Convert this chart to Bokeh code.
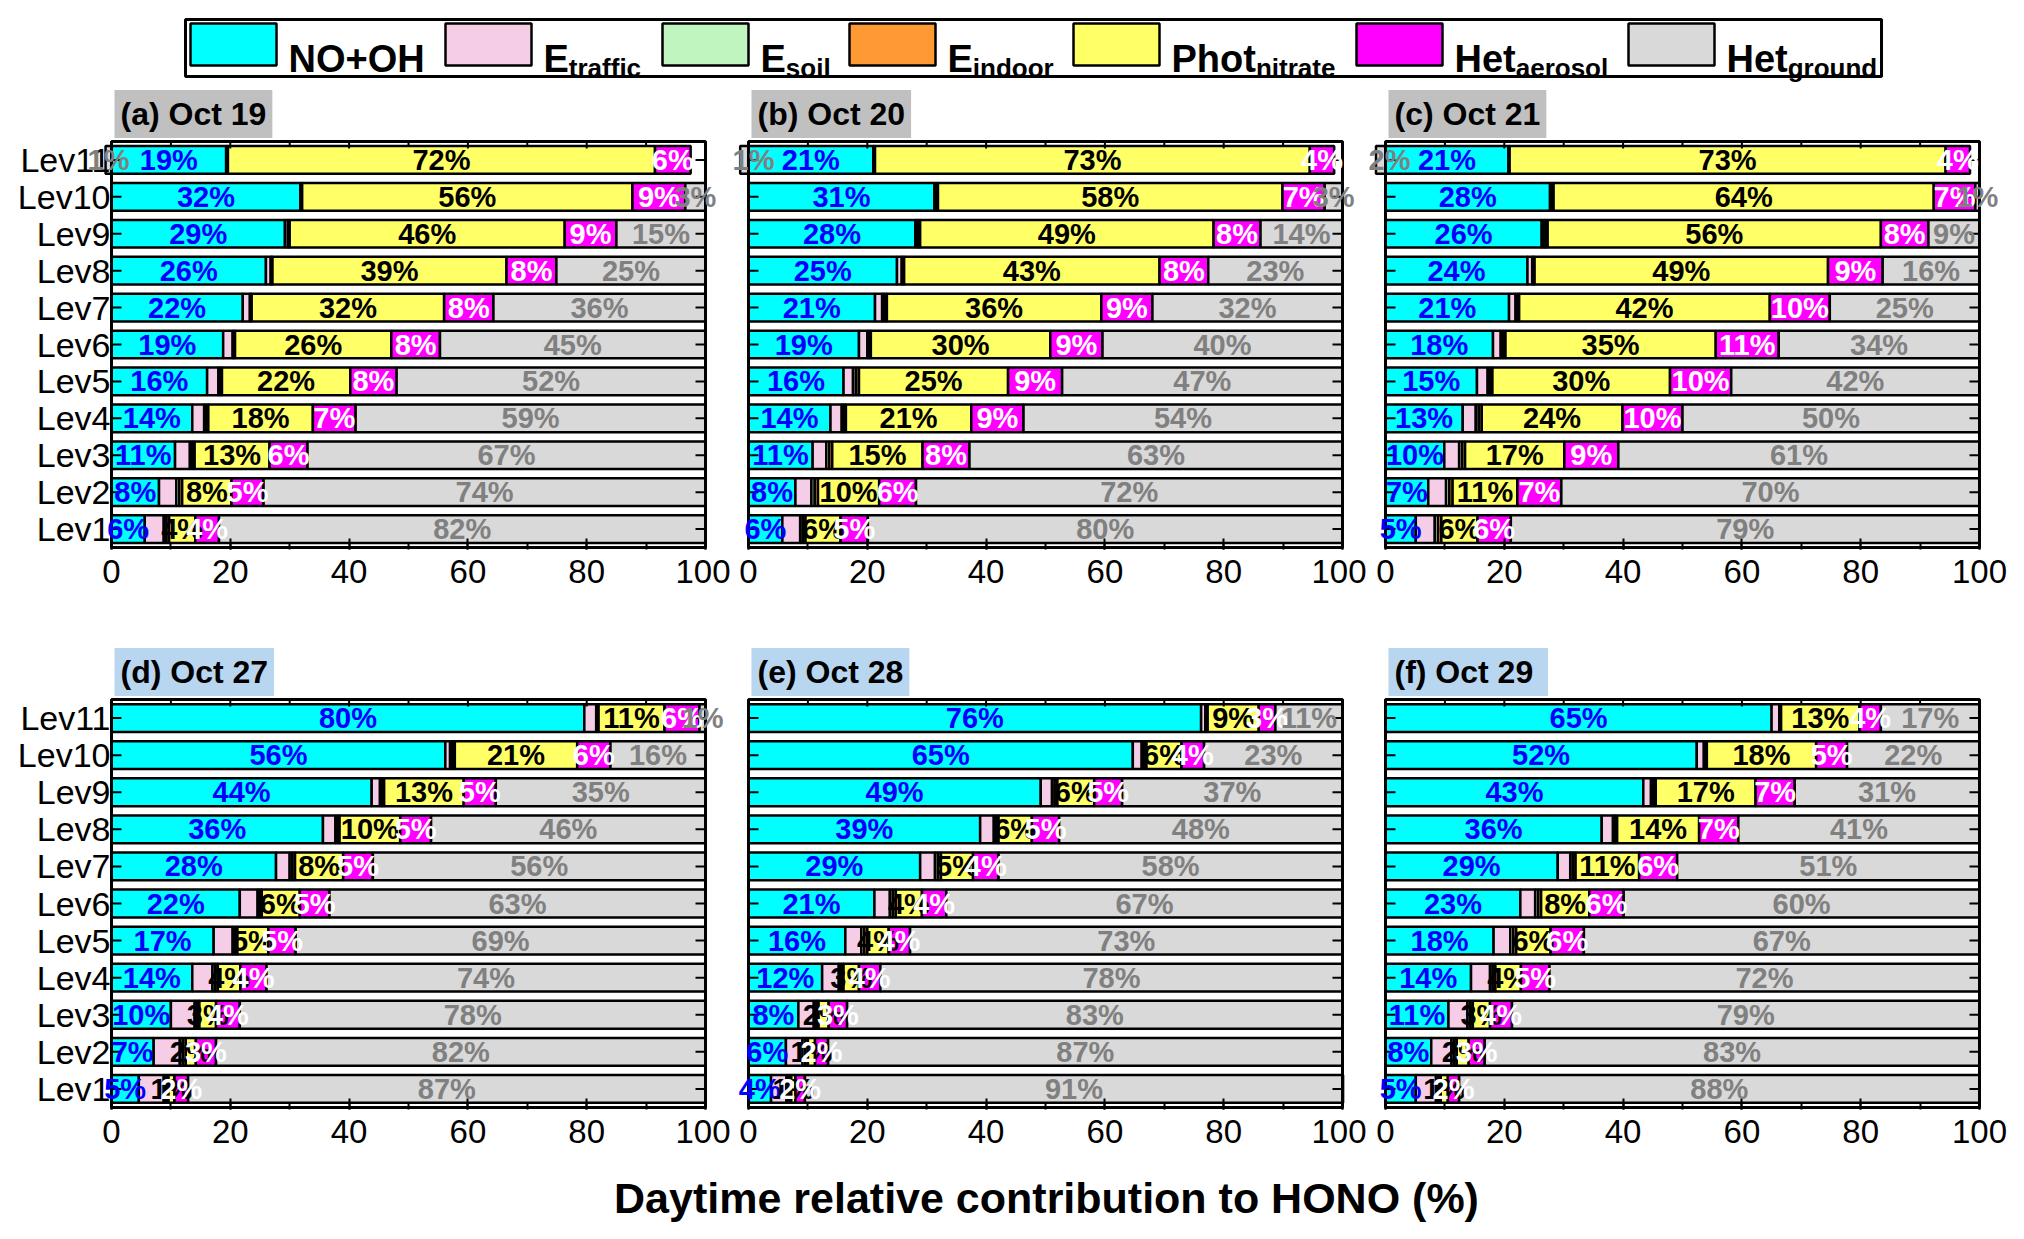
from bokeh.plotting import figure
from bokeh.models import Range1d, FixedTicker, SingleIntervalTicker, ColumnDataSource, LabelSet
from bokeh.layouts import column, row
from bokeh.core.properties import value
from bokeh.embed import file_html
from bokeh.resources import INLINE

FONT = "Liberation Sans"

levels = list(range(1, 12))
level_names = [f"Lev{i}" for i in levels]

# values per level, Lev1 -> Lev11 (percent of daytime HONO)
oct19_no_oh = [5.6, 8.0, 10.7, 13.6, 16.1, 18.8, 22.1, 26.0, 29.2, 31.8, 19.3]
oct19_e_traffic = [3.2, 2.9, 2.5, 2.0, 1.9, 1.6, 1.2, 0.8, 0.5, 0.2, 0.1]
oct19_e_soil = [0.45, 0.5, 0.4, 0.35, 0.3, 0.2, 0.15, 0.15, 0.15, 0.05, 0.1]
oct19_e_indoor = [0.45, 0.5, 0.4, 0.35, 0.3, 0.2, 0.15, 0.15, 0.15, 0.05, 0.1]
oct19_phot = [4.4, 8.3, 12.6, 17.6, 21.6, 26.3, 32.4, 39.4, 46.3, 55.6, 71.9]
oct19_het_aer = [4.0, 5.4, 6.4, 7.2, 7.8, 8.2, 8.3, 8.4, 8.7, 8.9, 6.0]
oct19_het_ground = [81.9, 74.4, 67.0, 58.9, 52.0, 44.7, 35.7, 25.1, 15.0, 3.4, 1.0]

oct20_no_oh = [5.7, 7.9, 10.8, 13.8, 16.0, 18.6, 21.3, 25.0, 28.1, 31.3, 21.0]
oct20_e_traffic = [3.0, 2.7, 2.3, 1.9, 1.6, 1.4, 1.2, 0.8, 0.4, 0.2, 0.1]
oct20_e_soil = [0.45, 0.55, 0.5, 0.35, 0.5, 0.3, 0.4, 0.2, 0.2, 0.2, 0.1]
oct20_e_indoor = [0.45, 0.55, 0.5, 0.35, 0.5, 0.3, 0.4, 0.2, 0.2, 0.2, 0.1]
oct20_phot = [5.9, 10.3, 15.2, 21.1, 25.1, 30.2, 36.1, 43.0, 49.4, 58.0, 73.2]
oct20_het_aer = [4.6, 6.2, 7.9, 8.8, 9.1, 8.8, 8.6, 8.2, 7.9, 7.1, 4.1]
oct20_het_ground = [79.9, 71.8, 62.8, 53.7, 47.2, 40.4, 32.0, 22.6, 13.8, 3.0, 1.4]

oct21_no_oh = [5.1, 7.2, 9.9, 13.0, 15.4, 18.1, 20.8, 23.9, 26.3, 27.7, 20.7]
oct21_e_traffic = [3.2, 3.0, 2.5, 2.2, 1.8, 1.3, 1.1, 0.8, 0.4, 0.2, 0.1]
oct21_e_soil = [0.55, 0.55, 0.5, 0.5, 0.4, 0.4, 0.3, 0.2, 0.3, 0.2, 0.05]
oct21_e_indoor = [0.55, 0.55, 0.5, 0.5, 0.4, 0.4, 0.3, 0.2, 0.3, 0.2, 0.05]
oct21_phot = [6.1, 10.9, 16.7, 23.7, 29.9, 35.4, 42.2, 49.4, 56.1, 64.0, 73.4]
oct21_het_aer = [5.6, 7.4, 9.1, 10.1, 10.3, 10.6, 10.1, 9.2, 8.0, 7.0, 4.1]
oct21_het_ground = [78.9, 70.4, 60.8, 50.0, 41.8, 33.8, 25.2, 16.3, 8.6, 0.7, 1.6]

oct27_no_oh = [4.6, 7.1, 10.0, 13.6, 17.2, 21.6, 27.7, 35.6, 43.8, 56.2, 79.6]
oct27_e_traffic = [4.2, 4.4, 4.0, 3.4, 3.2, 3.0, 2.3, 2.1, 1.4, 0.8, 2.0]
oct27_e_soil = [0.4, 0.5, 0.4, 0.45, 0.4, 0.35, 0.45, 0.35, 0.35, 0.4, 0.2]
oct27_e_indoor = [0.4, 0.5, 0.4, 0.45, 0.4, 0.35, 0.45, 0.35, 0.35, 0.4, 0.2]
oct27_phot = [1.0, 1.7, 2.8, 3.8, 5.2, 6.4, 8.1, 10.2, 13.4, 20.6, 11.1]
oct27_het_aer = [2.3, 3.4, 4.0, 4.4, 4.6, 5.0, 5.0, 5.2, 5.4, 5.6, 5.9]
oct27_het_ground = [87.1, 82.4, 78.4, 73.9, 69.0, 63.3, 56.0, 46.2, 35.3, 16.0, 1.0]

oct28_no_oh = [3.8, 6.3, 8.4, 12.4, 16.3, 21.2, 28.9, 39.0, 49.2, 64.7, 76.2]
oct28_e_traffic = [2.6, 2.8, 2.6, 2.8, 2.7, 2.6, 2.5, 2.3, 1.9, 1.5, 0.7]
oct28_e_soil = [0.4, 0.45, 0.4, 0.4, 0.5, 0.5, 0.5, 0.4, 0.45, 0.4, 0.2]
oct28_e_indoor = [0.4, 0.45, 0.4, 0.4, 0.5, 0.5, 0.5, 0.4, 0.45, 0.4, 0.2]
oct28_phot = [0.7, 1.2, 1.7, 2.6, 3.6, 4.4, 5.4, 5.6, 6.2, 5.9, 8.6]
oct28_het_aer = [1.6, 2.2, 3.1, 3.6, 3.6, 4.1, 4.3, 4.6, 4.7, 3.8, 2.8]
oct28_het_ground = [90.6, 86.6, 83.4, 77.8, 72.8, 66.7, 57.9, 47.7, 37.1, 23.3, 11.3]

oct29_no_oh = [5.1, 7.7, 10.6, 14.4, 18.2, 22.7, 29.0, 36.4, 43.4, 52.4, 65.0]
oct29_e_traffic = [3.4, 3.4, 3.2, 3.2, 2.8, 2.5, 2.1, 1.9, 1.3, 1.2, 1.3]
oct29_e_soil = [0.4, 0.45, 0.45, 0.45, 0.5, 0.5, 0.45, 0.35, 0.4, 0.25, 0.15]
oct29_e_indoor = [0.4, 0.45, 0.45, 0.45, 0.5, 0.5, 0.45, 0.35, 0.4, 0.25, 0.15]
oct29_phot = [1.2, 2.0, 2.9, 4.3, 5.8, 8.1, 10.7, 13.8, 16.8, 18.4, 13.2]
oct29_het_aer = [1.9, 2.7, 3.7, 4.8, 5.6, 5.8, 6.4, 6.6, 6.6, 5.2, 3.6]
oct29_het_ground = [87.6, 83.3, 78.7, 72.4, 66.6, 59.9, 50.9, 40.6, 31.1, 22.3, 16.6]

panel_titles = ["(a) Oct 19", "(b) Oct 20", "(c) Oct 21", "(d) Oct 27", "(e) Oct 28", "(f)  Oct 29"]

legend_names = ["NO+OH", "E", "E", "E", "Phot", "Het", "Het"]
legend_subs = ["", "traffic", "soil", "indoor", "nitrate", "aerosol", "ground"]

bar_colors = ["#00FFFF", "#F5CDE6", "#C0F5C0", "#FF9933", "#FFFF66", "#FF00FF", "#D9D9D9"]
# label colours for the segments that carry a percentage
label_colors = {0: "#0000FF", 4: "black", 5: "white", 6: "#808080"}
LABEL_SIZE = "29px"
LABEL_HALF_W = 22  # px, half width of a two-character label

# Arial bold advance widths (em) for legend text layout
bold_w = {"N": 0.722, "O": 0.778, "+": 0.584, "H": 0.722, "E": 0.667,
          "P": 0.667, "h": 0.611, "o": 0.611, "t": 0.333, "e": 0.556}

# page layout (px). The plotting frame is a little wider than the drawn 0-100 box
# so percentage labels can run past the box edges like in the source figure.
canvas_edges = [0, 730, 1366, 2016]
box_left = [111, 748, 1385]
BOX_W = 594
frame_left = [84, 731, 1367]
frame_right = [725, 1364, 2014]
PX = BOX_W / 100.0


def make_panel(i, title, parts, title_bg, top_row, box_top, box_h, bt, bb, height):
    width = canvas_edges[i + 1] - canvas_edges[i]
    bl = frame_left[i] - canvas_edges[i]
    br = canvas_edges[i + 1] - frame_right[i]
    py = box_h / 11.0
    pad = 2 / py
    xlo = (frame_left[i] - box_left[i]) / PX
    xhi = (frame_right[i] - box_left[i]) / PX
    y_labels = i == 0
    p = figure(width=width, height=height, x_range=Range1d(xlo, xhi),
               y_range=Range1d(0.5 - pad, 11.5 + pad),
               output_backend="svg", toolbar_location=None, tools="",
               y_axis_location="left" if y_labels else None,
               min_border_left=bl, min_border_right=br, min_border_top=bt, min_border_bottom=bb)
    p.grid.visible = False
    p.outline_line_color = None

    run = [0.0] * len(levels)
    spans = []
    for k, vals in enumerate(parts):
        left = list(run)
        right = [a + b for a, b in zip(run, vals)]
        if k == 6 and top_row:
            # top-level ground share is drawn before the axis origin, as in the source figure
            left[-1], right[-1] = -vals[-1], 0.0
        spans.append((left, right))
        run = right
        p.hbar(y=levels, left=left, right=right, height=0.75,
               fill_color=bar_colors[k], line_color="black", line_width=2.5)

    # plot box
    p.quad(left=[0], right=[100], bottom=[0.5], top=[11.5], fill_color=None,
           line_color="black", line_width=3)

    xmin_lab = xlo + LABEL_HALF_W / PX
    for k, col in label_colors.items():
        left, right = spans[k]
        xs = [max((a + b) / 2, xmin_lab) for a, b in zip(left, right)]
        src = ColumnDataSource(dict(x=xs, y=levels, t=[f"{round(v)}%" for v in parts[k]]))
        p.add_layout(LabelSet(x="x", y="y", text="t", source=src,
                              text_align="center", text_baseline="middle",
                              text_font=value(FONT), text_font_style="bold",
                              text_font_size=LABEL_SIZE, text_color=col))

    # inward ticks on top, left and right of the box
    dy = 1 / py
    dx = 1 / PX
    xt = list(range(0, 101, 10))
    tl = [7 if t % 20 == 0 else 4 for t in xt]
    p.segment(x0=xt, x1=xt, y0=[11.5] * len(xt), y1=[11.5 - L * dy for L in tl],
              line_color="black", line_width=2)
    p.segment(x0=[100] * 11, x1=[100 - 10 * dx] * 11, y0=levels, y1=levels,
              line_color="black", line_width=2)
    p.segment(x0=[0] * 11, x1=[10 * dx] * 11, y0=levels, y1=levels,
              line_color="black", line_width=2)

    xa = p.xaxis[0]
    xa.ticker = SingleIntervalTicker(interval=20, num_minor_ticks=2)
    xa.major_tick_in = 11
    xa.major_tick_out = 0
    xa.minor_tick_in = 6
    xa.minor_tick_out = 0
    xa.major_tick_line_width = 2
    xa.minor_tick_line_width = 2
    xa.axis_line_color = None
    xa.major_label_text_font = FONT
    xa.major_label_text_font_size = "33px"
    xa.major_label_text_color = "black"
    xa.major_label_standoff = 10

    if y_labels:
        ya = p.yaxis[0]
        ya.ticker = FixedTicker(ticks=levels)
        ya.major_label_overrides = {lv: n for lv, n in zip(levels, level_names)}
        ya.major_tick_in = 0
        ya.major_tick_out = 0
        ya.axis_line_color = None
        ya.major_label_text_font = FONT
        ya.major_label_text_font_size = "34px"
        ya.major_label_text_color = "black"
        ya.major_label_standoff = frame_left[i] - box_left[i] + 1

    p.title.text = title
    p.title.text_font = FONT
    p.title.text_font_size = "32px"
    p.title.text_font_style = "bold"
    p.title.text_color = "black"
    p.title.align = "left"
    p.title.offset = box_left[i] - frame_left[i] + 3
    p.title.standoff = 3
    p.title.background_fill_color = title_bg
    p.title.padding = 6
    return p


# legend strip (data units = page pixels)
leg = figure(width=2016, height=86, x_range=Range1d(0, 2016), y_range=Range1d(86, 0),
             output_backend="svg", toolbar_location=None, tools="",
             x_axis_location=None, y_axis_location=None, min_border=0)
leg.grid.visible = False
leg.outline_line_color = None
leg.quad(left=[185], right=[1881], top=[19], bottom=[76],
         fill_color="white", line_color="black", line_width=3)
legend_x = [190, 445, 662, 849, 1073, 1356, 1628]
sw = 86
leg.quad(left=legend_x, right=[x + sw for x in legend_x], top=[23] * 7, bottom=[65] * 7,
         fill_color=bar_colors, line_color="black", line_width=2.5)
main_x = [x + sw + 12 for x in legend_x]
leg.text(x=main_x, y=[58] * 7, text=legend_names, text_align="left", text_baseline="alphabetic",
         text_font=value(FONT), text_font_style="bold", text_font_size="38px", text_color="black")
sub_x = [mx + 38 * sum(bold_w[c] for c in n) for mx, n in zip(main_x, legend_names)]
leg.text(x=sub_x[1:], y=[67] * 6, text=legend_subs[1:], text_align="left", text_baseline="alphabetic",
         text_font=value(FONT), text_font_style="bold", text_font_size="26px", text_color="black")

days = [
    [oct19_no_oh, oct19_e_traffic, oct19_e_soil, oct19_e_indoor, oct19_phot, oct19_het_aer, oct19_het_ground],
    [oct20_no_oh, oct20_e_traffic, oct20_e_soil, oct20_e_indoor, oct20_phot, oct20_het_aer, oct20_het_ground],
    [oct21_no_oh, oct21_e_traffic, oct21_e_soil, oct21_e_indoor, oct21_phot, oct21_het_aer, oct21_het_ground],
    [oct27_no_oh, oct27_e_traffic, oct27_e_soil, oct27_e_indoor, oct27_phot, oct27_het_aer, oct27_het_ground],
    [oct28_no_oh, oct28_e_traffic, oct28_e_soil, oct28_e_indoor, oct28_phot, oct28_het_aer, oct28_het_ground],
    [oct29_no_oh, oct29_e_traffic, oct29_e_soil, oct29_e_indoor, oct29_phot, oct29_het_aer, oct29_het_ground],
]

# row 1 spans page y 86..640 (box 140..547), row 2 spans 640..1160 (box 699..1107)
top = [make_panel(i, panel_titles[i], days[i], "#C0C0C0", True, 140, 407, 52, 91, 554)
       for i in range(3)]
bottom = [make_panel(i, panel_titles[i + 3], days[i + 3], "#B8D6F0", False, 699, 408, 57, 51, 520)
          for i in range(3)]

xl = figure(width=2016, height=66, x_range=Range1d(0, 2016), y_range=Range1d(1226, 1160),
            output_backend="svg", toolbar_location=None, tools="",
            x_axis_location=None, y_axis_location=None, min_border=0)
xl.grid.visible = False
xl.outline_line_color = None
xl.text(x=[1046], y=[1197], text=["Daytime relative contribution to HONO (%)"],
        text_align="center", text_baseline="middle", text_font=value(FONT),
        text_font_style="bold", text_font_size="43px", text_color="black")

layout = column(leg, row(*top), row(*bottom), xl)

open("out.html", "w").write(file_html(layout, INLINE))
